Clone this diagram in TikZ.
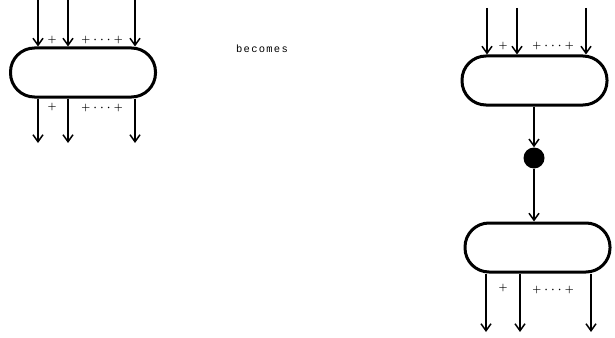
\documentclass[tikz,border=0pt]{standalone}
\usepackage{fontspec}
\usetikzlibrary{arrows.meta}
\newfontfamily\becfont[LetterSpace=12]{Liberation Mono}
\newcommand{\pdots}{$\mathord{+}\hspace{3.5pt}\mathord{\cdot}\hspace{3.5pt}\mathord{\cdot}\hspace{3.5pt}\mathord{\cdot}\hspace{3.5pt}\mathord{+}$}
\begin{document}
\begin{tikzpicture}[x=1pt,y=-1pt,
  blob/.style={draw, line width=3pt, rounded corners=24pt, minimum width=145pt, minimum height=49pt, inner sep=0pt},
  arr/.style={line width=1.7pt, -{Straight Barb[length=7pt,width=10pt,line width=1.5pt]}},
  lbl/.style={inner sep=0pt, font=\boldmath\normalsize},
  dot/.style={circle, fill=black, minimum size=21pt, inner sep=0pt}]
\useasboundingbox (0,0) rectangle (615,337);
% left
\node[blob] (L) at (83,72.5) {};
\foreach \n/\x in {a/38,b/68,c/135} {
  \coordinate (Lt\n) at (\x,0);
  \coordinate (Lb\n) at (\x,143);
  \draw[arr] (Lt\n) -- (Lt\n |- L.north);
  \draw[arr] (Lb\n |- L.south) -- (Lb\n);
}
\node[lbl] (Lp1) at (52,40) {$+$};
\node[lbl] (Lp2) at (102,40) {\pdots};
\node[lbl] (Lq1) at (52,107) {$+$};
\node[lbl] (Lq2) at (102,108) {\pdots};
% becomes
\node[inner sep=0pt, font=\becfont\fontsize{10.5}{12}\selectfont] (B) at (262,49) {becomes};
% right top
\node[blob] (R1) at (534.5,80.5) {};
\foreach \n/\x in {a/487,b/517,c/586} {
  \coordinate (Rt\n) at (\x,8);
  \draw[arr] (Rt\n) -- (Rt\n |- R1.north);
}
\node[lbl] (Rp1) at (503,46) {$+$};
\node[lbl] (Rp2) at (553,46) {\pdots};
% dot
\node[dot] (D) at (534,158) {};
\draw[arr] (R1.south -| D) -- (D.north);
% right bottom
\node[blob] (R2) at (537.5,247.5) {};
\draw[arr] (D.south) -- (D |- R2.north);
\foreach \n/\x in {a/486,b/520,c/591} {
  \coordinate (Rb\n) at (\x,332);
  \draw[arr] (Rb\n |- R2.south) -- (Rb\n);
}
\node[lbl] (Rq1) at (503,288) {$+$};
\node[lbl] (Rq2) at (553,290) {\pdots};
\end{tikzpicture}
\end{document}
